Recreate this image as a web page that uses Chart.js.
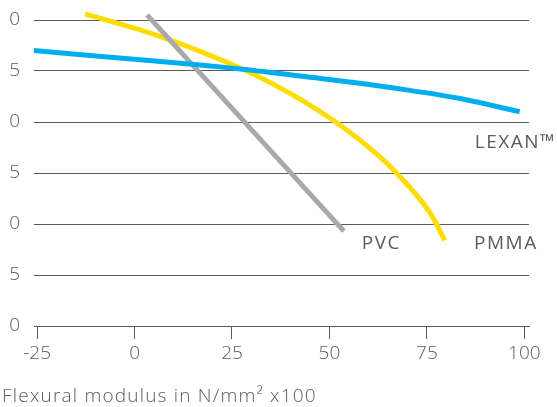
<!DOCTYPE html>
<html>
<head>
<meta charset="utf-8">
<script src="https://cdn.jsdelivr.net/npm/chart.js@4"></script>
<style>
  html, body { margin: 0; padding: 0; background: #fff; }
  #wrap { position: relative; width: 557px; height: 407px; overflow: hidden; }
  #axis-title { position: absolute; left: 2px; top: 382px; font: 300 19px "Open Sans", sans-serif; letter-spacing: 1.2px; color: #5a5b5d; white-space: nowrap; }
</style>
</head>
<body>
<div id="wrap">
  <canvas id="chart" width="557" height="407"></canvas>
  <div id="axis-title">Flexural modulus in N/mm² x100</div>
</div>
<script>
// 數據
const xTicks = [-25, 0, 25, 50, 75, 100];
const yTickLabels = ['0', '5', '0', '5', '0', '5', '0']; // 圖上只看得到最後一位數

const lexanX = [-25.8, 1.4, 27.1, 42.4, 57.8, 70.6, 83.5, 98.8];
const lexanY = [27.0, 26.1, 25.2, 24.5, 23.8, 23.1, 22.3, 21.0];

const pmmaX = [-12.7, 6.5, 27.1, 39.9, 52.7, 62.9, 70.6, 75.8, 79.6];
const pmmaY = [30.6, 28.4, 25.3, 22.8, 19.7, 16.6, 13.6, 11.1, 8.4];

const pvcX = [3.2, 53.7];
const pvcY = [30.5, 9.3];

const seriesLabels = [
    { text: 'LEXAN™', x: 87.3, y: 18.0 },
    { text: 'PVC', x: 58.3, y: 8.1 },
    { text: 'PMMA', x: 87.1, y: 8.1 }
];

const textColor = '#5a5b5d';
const fontFamily = '"Open Sans", sans-serif';

function toPoints(xs, ys) {
    return xs.map((x, i) => ({ x: x, y: ys[i] }));
}

// 在圖上畫系列名稱
const seriesLabelPlugin = {
    id: 'seriesLabels',
    afterDatasetsDraw(chart) {
        const ctx = chart.ctx;
        const xs = chart.scales.x, ys = chart.scales.y;
        ctx.save();
        ctx.fillStyle = textColor;
        ctx.font = '500 19px ' + fontFamily;
        ctx.letterSpacing = '1.5px';
        ctx.textAlign = 'left';
        ctx.textBaseline = 'middle';
        seriesLabels.forEach(l => {
            ctx.fillText(l.text, xs.getPixelForValue(l.x), ys.getPixelForValue(l.y));
        });
        ctx.restore();
    }
};

const lineStyle = { borderWidth: 5, pointRadius: 0, fill: false, clip: false, borderCapStyle: 'butt' };

new Chart(document.getElementById('chart'), {
    type: 'line',
    data: {
        datasets: [
            Object.assign({ label: 'LEXAN™', data: toPoints(lexanX, lexanY), borderColor: '#00aeef', tension: 0.4 }, lineStyle),
            Object.assign({ label: 'PVC', data: toPoints(pvcX, pvcY), borderColor: '#a7a9ac', tension: 0 }, lineStyle),
            Object.assign({ label: 'PMMA', data: toPoints(pmmaX, pmmaY), borderColor: '#ffdd00', tension: 0.4 }, lineStyle)
        ]
    },
    options: {
        responsive: false,
        animation: false,
        layout: { padding: { top: 20, right: 28, bottom: 45, left: 0 } },
        plugins: { legend: { display: false }, tooltip: { enabled: false } },
        scales: {
            x: {
                type: 'linear',
                min: -25.8,
                max: 101.2,
                afterBuildTicks: axis => { axis.ticks = xTicks.map(v => ({ value: v })); },
                afterFit: axis => { axis.height = 36; axis.paddingLeft = 0; axis.paddingRight = 0; },
                grid: { drawOnChartArea: false, drawTicks: true, tickLength: 13, color: textColor, lineWidth: 1 },
                border: { display: true, color: textColor, width: 1 },
                ticks: { color: textColor, padding: 3, maxRotation: 0, font: { family: fontFamily, size: 19, weight: 300 } }
            },
            y: {
                min: 0,
                max: 30,
                afterBuildTicks: axis => { axis.ticks = [0, 5, 10, 15, 20, 25, 30].map(v => ({ value: v })); },
                afterFit: axis => { axis.width = 34; axis.paddingTop = 0; axis.paddingBottom = 0; },
                grid: { drawTicks: false, color: textColor, lineWidth: 1 },
                border: { display: false },
                ticks: {
                    color: textColor,
                    padding: 14,
                    font: { family: fontFamily, size: 19, weight: 300 },
                    callback: (v, i) => yTickLabels[i]
                }
            }
        }
    },
    plugins: [seriesLabelPlugin]
});
</script>
</body>
</html>
